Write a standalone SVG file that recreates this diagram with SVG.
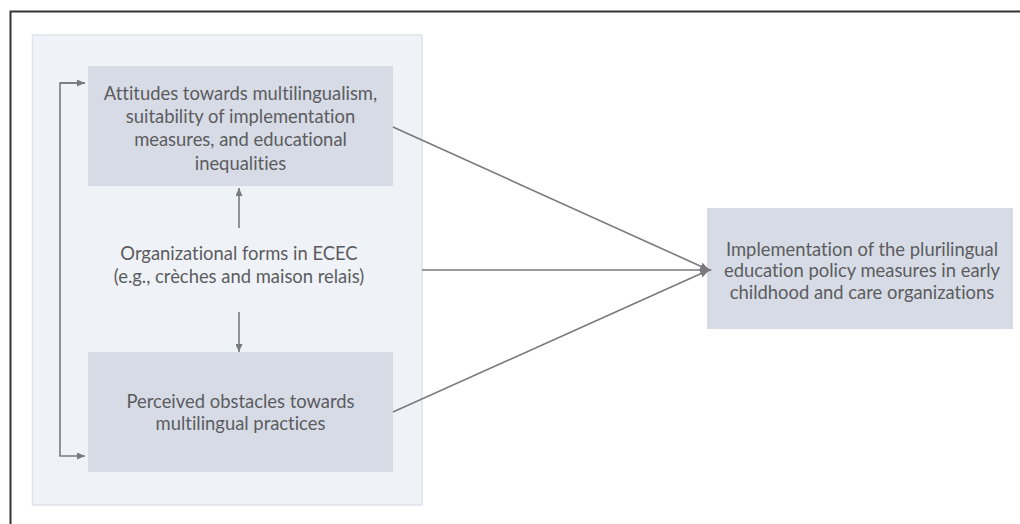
<svg xmlns="http://www.w3.org/2000/svg" width="1020" height="524" viewBox="0 0 1020 524">
<defs>
<style>
.txt{font-family:Lato,"Open Sans","Liberation Sans",sans-serif;font-size:18.4px;fill:#5c5c60;text-anchor:middle;font-variant-ligatures:none;font-feature-settings:"liga" 0,"dlig" 0}
.box{fill:#d6dbe5}
.conn{stroke:#7a7a7c;stroke-width:1.6;fill:none}
</style>
<marker id="ah" markerWidth="10" markerHeight="8" refX="9" refY="4" orient="auto" markerUnits="userSpaceOnUse">
<path d="M0,0 L10,4 L0,8 z" fill="#7a7a7c"/>
</marker>
<marker id="ahs" markerWidth="8" markerHeight="7" refX="8" refY="3.5" orient="auto" markerUnits="userSpaceOnUse">
<path d="M0,0 L8,3.5 L0,7 z" fill="#7a7a7c"/>
</marker>
</defs>
<rect width="1020" height="524" fill="#ffffff"/>
<path d="M10.5,524 V11.5 H1020" stroke="#333" stroke-width="2" fill="none"/>
<g id="panel">
<rect x="32.5" y="35" width="389.5" height="470" fill="#eff2f7" stroke="#dfe3ea" stroke-width="1.5"/>
</g>
<g id="node-attitudes">
<rect class="box" x="88" y="66" width="305" height="120"/>
<text class="txt" x="240.5" y="100">Attitudes towards multilingualism,</text>
<text class="txt" x="240.5" y="123">suitability of implementation</text>
<text class="txt" x="240.5" y="146">measures, and educational</text>
<text class="txt" x="240.5" y="170">inequalities</text>
</g>
<g id="node-forms">
<text class="txt" x="239" y="260">Organizational forms in ECEC</text>
<text class="txt" x="239" y="283">(e.g., crèches and maison relais)</text>
</g>
<g id="node-obstacles">
<rect class="box" x="88" y="352" width="305" height="120"/>
<text class="txt" x="240.5" y="408">Perceived obstacles towards</text>
<text class="txt" x="240.5" y="430">multilingual practices</text>
</g>
<g id="node-implementation">
<rect class="box" x="707" y="208" width="306" height="121"/>
<text class="txt" x="862" y="256">Implementation of the plurilingual</text>
<text class="txt" x="862" y="277">education policy measures in early</text>
<text class="txt" x="862" y="299">childhood and care organizations</text>
</g>
<g id="connectors">
<line class="conn" x1="239" y1="228" x2="239" y2="188" marker-end="url(#ahs)"/>
<line class="conn" x1="239" y1="312" x2="239" y2="352" marker-end="url(#ahs)"/>
<path class="conn" d="M85,83 H60 V456 H85" marker-end="url(#ahs)"/>
<path class="conn" d="M60,83 H85" marker-end="url(#ahs)"/>
<line class="conn" x1="393" y1="127" x2="709" y2="270" marker-end="url(#ah)"/>
<line class="conn" x1="422" y1="270" x2="711" y2="270" marker-end="url(#ah)"/>
<line class="conn" x1="393" y1="412" x2="709" y2="270" marker-end="url(#ah)"/>
</g>
</svg>
